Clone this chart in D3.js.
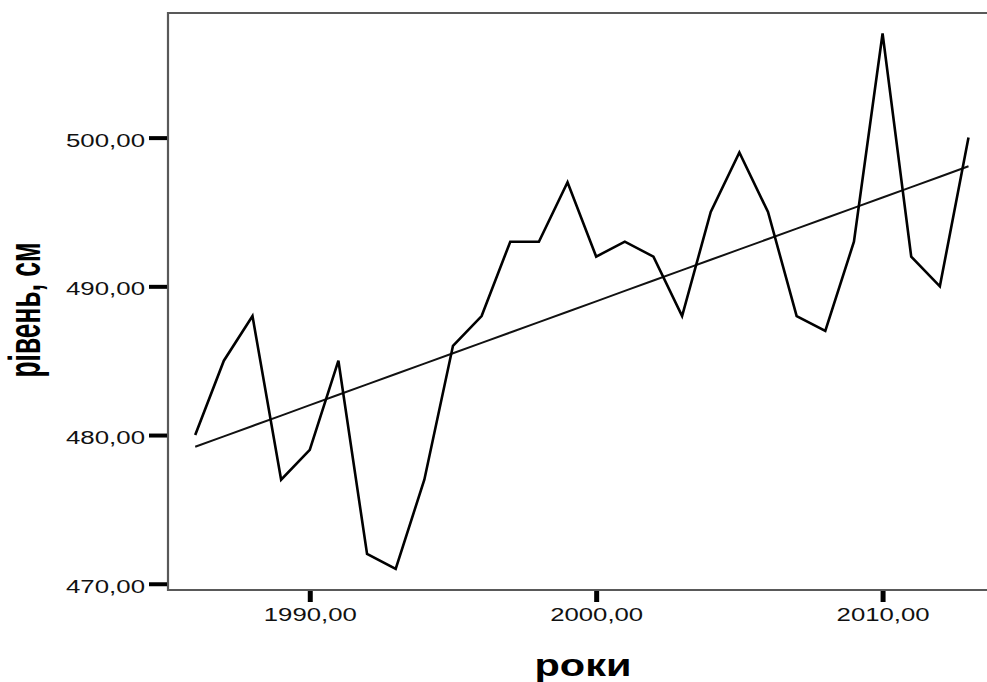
<!DOCTYPE html>
<html>
<head>
<meta charset="utf-8">
<script src="https://cdn.jsdelivr.net/npm/d3@7"></script>
<style>
  html, body { margin: 0; padding: 0; background: #fff; }
  svg { display: block; }
</style>
</head>
<body>
<svg id="chart" width="987" height="682"></svg>
<script>
// Annual water level, cm
const years = [1986, 1987, 1988, 1989, 1990, 1991, 1992, 1993, 1994, 1995,
               1996, 1997, 1998, 1999, 2000, 2001, 2002, 2003, 2004, 2005,
               2006, 2007, 2008, 2009, 2010, 2011, 2012, 2013];
const levels = [480, 485, 488, 477, 479, 485, 472, 471, 477, 486,
                488, 493, 493, 497, 492, 493, 492, 488, 495, 499,
                495, 488, 487, 493, 507, 492, 490, 500];
const xTicks = [1990, 2000, 2010];
const yTicks = [470, 480, 490, 500];
const xTitle = "роки";
const yTitle = "рівень, см";

const svg = d3.select("#chart");
const plot = { left: 168, top: 13, bottom: 590, right: 1000 };

const x = d3.scaleLinear().domain([1985.05, 2014.1]).range([plot.left, plot.right]);
const y = d3.scaleLinear().domain([469.58, 508.38]).range([plot.bottom, plot.top]);

const fmt = v => d3.format(".2f")(v).replace(".", ",");

// least-squares trend of the level series
const xm = d3.mean(years), ym = d3.mean(levels);
const slope = d3.sum(years, (t, i) => (t - xm) * (levels[i] - ym)) /
              d3.sum(years, t => (t - xm) * (t - xm));
const fit = t => ym + slope * (t - xm);
const trend = years.map(t => [t, fit(t)]);

// plot frame
svg.append("path")
  .attr("d", `M${plot.right},${plot.top}H${plot.left}V${plot.bottom}H${plot.right}`)
  .attr("fill", "none")
  .attr("stroke", "#595959")
  .attr("stroke-width", 2.2);

// y axis
const gy = svg.append("g")
  .attr("transform", `translate(${plot.left - 1},0)`)
  .call(d3.axisLeft(y).tickValues(yTicks).tickFormat(fmt).tickSize(18).tickPadding(4));
gy.select(".domain").remove();
gy.selectAll(".tick line").attr("stroke", "#000").attr("stroke-width", 4);
gy.selectAll(".tick text")
  .attr("fill", "#111")
  .attr("font-family", "'Liberation Sans', Arial, sans-serif")
  .attr("font-size", 18)
  .attr("dy", "0.48em")
  .attr("textLength", 79)
  .attr("lengthAdjust", "spacingAndGlyphs");

// x axis
const gx = svg.append("g")
  .attr("transform", `translate(0,${plot.bottom + 1})`)
  .call(d3.axisBottom(x).tickValues(xTicks).tickFormat(fmt).tickSize(11).tickPadding(6));
gx.select(".domain").remove();
gx.selectAll(".tick line").attr("stroke", "#000").attr("stroke-width", 5);
gx.selectAll(".tick text")
  .attr("fill", "#111")
  .attr("font-family", "'Liberation Sans', Arial, sans-serif")
  .attr("font-size", 18)
  .attr("textLength", 93)
  .attr("lengthAdjust", "spacingAndGlyphs");

const line = d3.line().x(d => x(d[0])).y(d => y(d[1]));

// trend line
svg.append("path")
  .datum(trend)
  .attr("d", line)
  .attr("fill", "none")
  .attr("stroke", "#111")
  .attr("stroke-width", 2);

// observed levels
svg.append("path")
  .datum(years.map((t, i) => [t, levels[i]]))
  .attr("d", line)
  .attr("fill", "none")
  .attr("stroke", "#000")
  .attr("stroke-width", 2.6)
  .attr("stroke-linejoin", "miter");

// axis titles
svg.append("text")
  .attr("x", 583)
  .attr("y", 676)
  .attr("text-anchor", "middle")
  .attr("font-family", "'Liberation Sans', Arial, sans-serif")
  .attr("font-weight", "bold")
  .attr("font-size", 32)
  .attr("textLength", 97)
  .attr("lengthAdjust", "spacingAndGlyphs")
  .text(xTitle);

svg.append("text")
  .attr("transform", "translate(40,310) rotate(-90)")
  .attr("text-anchor", "middle")
  .attr("font-family", "'Liberation Sans', Arial, sans-serif")
  .attr("font-weight", "bold")
  .attr("font-size", 44)
  .attr("textLength", 135)
  .attr("lengthAdjust", "spacingAndGlyphs")
  .text(yTitle);
</script>
</body>
</html>
